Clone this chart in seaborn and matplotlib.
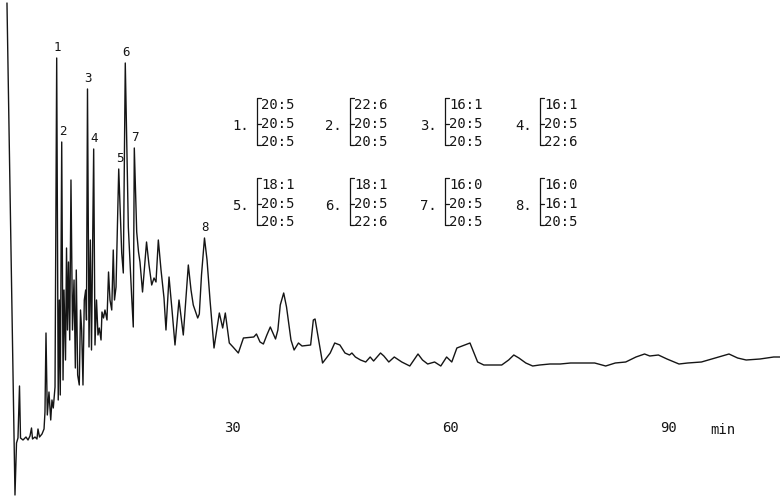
import numpy as np
import seaborn as sns
import matplotlib
matplotlib.use("Agg")
import matplotlib.pyplot as plt
from matplotlib.transforms import blended_transform_factory


# chromatogram trace (time in min, detector response in arbitrary units)
time_min = [
    -0.91, 0.19, 0.40, 0.60, 0.81, 0.95, 1.29, 1.70, 1.98, 2.25, 2.46, 2.60, 2.94, 3.21, 3.35,
    3.56, 3.90, 4.18, 4.31, 4.45, 4.63, 4.86, 5.10, 5.27, 5.45, 5.69, 5.92, 6.13, 6.28, 6.41,
    6.61, 6.79, 6.92, 7.13, 7.27, 7.40, 7.54, 7.71, 7.88, 8.09, 8.30, 8.48, 8.61, 8.80, 9.02,
    9.19, 9.35, 9.53, 9.71, 9.90, 10.01, 10.15, 10.36, 10.54, 10.70, 11.00, 11.18, 11.39, 11.59,
    11.77, 12.01, 12.14, 12.35, 12.55, 12.83, 13.04, 13.24, 13.48, 13.69, 13.86, 14.07, 14.44,
    14.85, 15.07, 15.34, 15.76, 16.22, 16.44, 16.58, 16.91, 17.16, 17.36, 17.71, 18.26, 18.60,
    18.97, 19.29, 19.56, 19.88, 20.25, 20.66, 20.93, 21.35, 21.76, 22.17, 22.72, 23.31, 24.00,
    24.37, 24.68, 25.29, 25.51, 25.81, 26.22, 26.57, 26.98, 27.53, 28.26, 28.72, 29.08, 29.63,
    30.14, 30.87, 31.57, 32.99, 33.36, 33.85, 34.31, 34.79, 35.26, 35.98, 36.30, 36.63, 37.10,
    37.49, 38.10, 38.53, 39.13, 39.62, 40.80, 41.17, 41.41, 41.74, 42.44, 43.49, 44.11, 44.82,
    45.52, 46.14, 46.47, 46.95, 47.65, 48.37, 48.98, 49.45, 50.40, 50.86, 51.54, 52.29, 53.32,
    54.42, 55.55, 56.17, 56.88, 57.83, 58.68, 59.48, 60.19, 60.89, 61.61, 62.69, 63.74, 64.59,
    67.05, 68.00, 68.71, 69.41, 70.36, 71.30, 72.25, 73.67, 75.08, 76.51, 77.93, 79.82, 81.33,
    82.65, 84.08, 85.49, 86.67, 87.39, 88.57, 89.75, 91.40, 92.59, 94.48, 96.37, 98.27, 99.45,
    100.63, 102.53, 104.41, 105.27,
]
response = [
    457, -35, 17, 22, 74, 22, 20, 23, 20, 24, 32, 21, 23, 21, 31,
    23, 26, 31, 48, 127, 45, 68, 40, 60, 52, 73, 402, 60, 160, 65,
    318, 80, 170, 100, 212, 130, 198, 120, 280, 130, 180, 92, 190, 85, 75,
    150, 130, 75, 160, 170, 140, 371, 113, 220, 110, 311, 115, 160, 125,
    132, 120, 148, 142, 150, 140, 188, 160, 150, 210, 160, 173, 291,
    207, 187, 397, 233, 163, 133, 312, 228, 208, 198, 168, 218, 195,
    175, 182, 178, 220, 190, 162, 130, 183, 150, 115, 160, 125, 195,
    170, 155, 142, 146, 185, 222, 200, 160, 112, 147, 132, 147, 117,
    113, 107, 122, 123, 126, 118, 116, 125, 133, 121, 130, 155, 167,
    153, 120, 110, 117, 114, 115, 140, 141, 127, 97, 107, 117, 115,
    107, 105, 107, 103, 100, 98, 103, 99, 107, 104, 98, 103, 98,
    94, 106, 100, 96, 98, 94, 103, 98, 112, 114, 117, 98, 95,
    95, 100, 105, 102, 97, 94, 95, 96, 96, 97, 97, 97, 94,
    97, 98, 103, 106, 104, 105, 101, 96, 97, 98, 102, 106, 102,
    100, 101, 103, 103,
]

# numbered peaks
peak_numbers = ["1", "2", "3", "4", "5", "6", "7", "8"]
peak_times = [5.92, 6.61, 10.15, 11.00, 14.44, 15.34, 16.58, 26.22]

# fatty acid composition of each numbered peak
peak_composition = [
    ["20:5", "20:5", "20:5"],
    ["22:6", "20:5", "20:5"],
    ["16:1", "20:5", "20:5"],
    ["16:1", "20:5", "22:6"],
    ["18:1", "20:5", "20:5"],
    ["18:1", "20:5", "22:6"],
    ["16:0", "20:5", "20:5"],
    ["16:0", "16:1", "20:5"],
]

time_ticks = [30, 60, 90]

W, H = 780, 499
INK = "#151515"
MONO = "DejaVu Sans Mono"

sns.set_style("white")
plt.rcParams["font.family"] = [MONO, "DejaVu Sans"]

fig = plt.figure(figsize=(W / 100, H / 100), dpi=100)
ax = fig.add_axes([0, 0, 1, 1])

sns.lineplot(x=time_min, y=response, estimator=None, sort=False,
             color=INK, linewidth=1.0, ax=ax)

ax.set_xlim(-13.6 / 7.28, (W - 13.6) / 7.28)
ax.set_ylim(460 - H, 460)
ax.axis("off")

# peak numbers above the peaks
for num, t in zip(peak_numbers, peak_times):
    r = np.interp(t, time_min, response)
    ax.annotate(num, (t, r), xytext=(0.5, 3), textcoords="offset points",
                ha="center", va="bottom", fontsize=9, color=INK)

# time axis labels, written on the chart itself
trans = blended_transform_factory(ax.transData, ax.transAxes)
for t in time_ticks:
    ax.text(t, 1 - 428 / H, str(t), transform=trans, ha="center", va="center",
            fontsize=10, color=INK)
ax.text(1 - 57 / W, 1 - 430 / H, "min", transform=ax.transAxes,
        ha="center", va="center", fontsize=10, color=INK)


# composition key: 4 columns x 2 rows of bracketed triplets
def fx(px):
    return px / W


def fy(py):
    return 1 - py / H


col_x = [232, 325, 420, 515]
row_y = [124, 204]

for i, comp in enumerate(peak_composition):
    x0 = col_x[i % 4]
    ym = row_y[i // 4]
    ax.text(fx(x0), fy(ym + 2), peak_numbers[i] + ".", transform=ax.transAxes,
            ha="left", va="center", fontsize=10, color=INK)
    xb = x0 + 25
    top, bot = ym - 26, ym + 21
    ax.plot([fx(xb + 4), fx(xb), fx(xb), fx(xb + 4)],
            [fy(top), fy(top), fy(bot), fy(bot)],
            transform=ax.transAxes, color=INK, lw=0.9)
    ax.plot([fx(xb), fx(xb + 4)], [fy(ym), fy(ym)],
            transform=ax.transAxes, color=INK, lw=0.9)
    for k, (txt, dy) in enumerate(zip(comp, [-19, 0, 18])):
        ax.text(fx(xb + 4), fy(ym + dy), txt, transform=ax.transAxes,
                ha="left", va="center", fontsize=10, color=INK)

fig.savefig("out.png", dpi=100)
